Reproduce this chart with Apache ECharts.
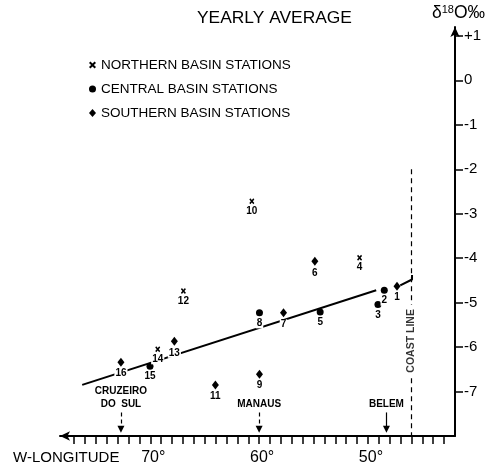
<!DOCTYPE html>
<html>
<head>
<meta charset="utf-8">
<script src="https://cdn.jsdelivr.net/npm/echarts@6/dist/echarts.min.js"></script>
<style>
  html, body { margin: 0; padding: 0; background: #fff; }
  #main { width: 492px; height: 467px; }
</style>
</head>
<body>
<div id="main"></div>
<script>
// station number, longitude (deg W) and yearly mean delta 18O (permil)
const northId = [4, 10, 12, 14]
const northLon = [50.77, 60.67, 66.96, 69.32]
const northD18O = [-3.99, -2.72, -4.74, -6.05]

const centralId = [2, 3, 5, 8, 15]
const centralLon = [48.5, 49.08, 54.39, 59.97, 70.03]
const centralD18O = [-4.72, -5.04, -5.21, -5.23, -6.43]

const southId = [1, 6, 7, 9, 11, 13, 16]
const southLon = [47.33, 54.88, 57.76, 59.97, 64.02, 67.79, 72.70]
const southD18O = [-4.63, -4.07, -5.23, -6.61, -6.85, -5.87, -6.34]

// trend line, in two pieces
const fitLon = [76.26, 49.24]
const fitD18O = [-6.85, -4.72]
const fitLon2 = [47.03, 45.95, 45.95]
const fitD18O2 = [-4.61, -4.48, -4.38]

// towns marked with arrows on the longitude axis
const placeNames = ['CRUZEIRO\nDO  SUL', 'MANAUS', 'BELEM']
const placeLon = [72.7, 60.0, 48.3]
const placeFrom = [-7.47, -7.47, -7.47]
const placeTo = -7.85

// coast line (broken where its label sits)
const coastLon = 46
const coastFrom = [-2, -6.7]
const coastTo = [-5.05, -8]
const coastLabelAt = -5.86

// ticks
const lonTicks = [43, 44, 45, 46, 47, 48, 49, 50, 51, 52, 53, 54, 55, 56, 57, 58, 59, 60,
  61, 62, 63, 64, 65, 66, 67, 68, 69, 70, 71, 72, 73, 74, 75, 76, 77]
const lonLabels = [50, 60, 70]
const d18OTicks = [1, 0, -1, -2, -3, -4, -5, -6, -7]

const font = 'Liberation Sans'

function pts(lon, d, id) {
  return lon.map((v, i) => [v, d[i], id[i]])
}

const numLabel = {
  show: true,
  position: 'bottom',
  distance: 2,
  formatter: p => p.value[2],
  fontFamily: font,
  fontWeight: 'bold',
  fontSize: 10,
  color: '#000',
  backgroundColor: '#fff',
  padding: [0, 1]
}

const chart = echarts.init(document.getElementById('main'))

const option = {
  animation: false,
  backgroundColor: '#fff',
  title: {
    text: 'YEARLY AVERAGE',
    left: 197,
    top: 10,
    padding: 0,
    textStyle: { fontFamily: font, fontSize: 17.4, fontWeight: 'normal', color: '#000' }
  },
  legend: {
    orient: 'vertical',
    left: 84,
    top: 53,
    itemWidth: 7,
    itemHeight: 8,
    itemGap: 10,
    selectedMode: false,
    textStyle: { fontFamily: font, fontSize: 13.5, lineHeight: 14, color: '#000' },
    data: ['NORTHERN BASIN STATIONS', 'CENTRAL BASIN STATIONS', 'SOUTHERN BASIN STATIONS']
  },
  grid: { left: 60, right: 37, top: 27, bottom: 31 },
  xAxis: {
    type: 'value',
    inverse: true,
    min: 42,
    max: 78.3,
    position: 'bottom',
    axisLine: {
      onZero: false,
      symbol: ['arrow', 'none'],
      symbolSize: [7, 10],
      lineStyle: { color: '#000', width: 2 }
    },
    axisTick: { customValues: lonTicks, length: 8, lineStyle: { color: '#000', width: 1.5 } },
    axisLabel: {
      customValues: lonLabels,
      formatter: v => v + '°',
      margin: 14,
      padding: [0, 0, 0, 6],
      fontFamily: font,
      fontSize: 16,
      color: '#000'
    },
    splitLine: { show: false }
  },
  yAxis: {
    type: 'value',
    position: 'right',
    min: -8,
    max: 1.2,
    axisLine: {
      show: true,
      onZero: false,
      symbol: ['none', 'arrow'],
      symbolSize: [7, 10],
      lineStyle: { color: '#000', width: 2 }
    },
    axisTick: { show: true, customValues: d18OTicks, length: 8, lineStyle: { color: '#000', width: 1.5 } },
    axisLabel: {
      customValues: d18OTicks,
      formatter: v => (v > 0 ? '+' + v : String(v)),
      margin: 9,
      fontFamily: font,
      fontSize: 15,
      color: '#000'
    },
    splitLine: { show: false }
  },
  graphic: [
    {
      type: 'text',
      left: 432,
      top: 4,
      style: {
        text: '{a|δ}{b|18}{a|O‰}',
        rich: {
          a: { fontFamily: font, fontSize: 17.5, fill: '#000' },
          b: { fontFamily: font, fontSize: 11, fill: '#000', padding: [0, 0, 8, 0] }
        }
      }
    },
    {
      type: 'text',
      left: 13,
      top: 450,
      style: { text: 'W-LONGITUDE', fontFamily: font, fontSize: 15, fill: '#000' }
    }
  ],
  series: [
    {
      name: 'trend',
      type: 'line',
      z: 1,
      silent: true,
      symbol: 'none',
      data: fitLon.map((v, i) => [v, fitD18O[i]]),
      lineStyle: { color: '#000', width: 2 },
      markLine: {
        silent: true,
        symbol: ['none', 'triangle'],
        symbolSize: 7,
        label: {
          show: true,
          position: 'start',
          distance: 2,
          formatter: '{b}',
          fontFamily: font,
          fontWeight: 'bold',
          fontSize: 10,
          lineHeight: 13,
          color: '#000'
        },
        data: placeLon.map((lon, i) => [
          {
            name: placeNames[i],
            coord: [lon, placeFrom[i]],
            itemStyle: { color: '#000', opacity: 1 },
            lineStyle: { color: '#000', width: 1.2, type: i === 2 ? 'solid' : [4, 3] }
          },
          { coord: [lon, placeTo] }
        ]).concat(coastFrom.map((from, i) => [
          {
            coord: [coastLon, from],
            symbol: 'none',
            label: { show: false },
            lineStyle: { color: '#000', width: 1.2, type: [5, 4] }
          },
          { coord: [coastLon, coastTo[i]], symbol: 'none' }
        ]))
      }
    },
    {
      name: 'trend2',
      type: 'line',
      z: 1,
      silent: true,
      symbol: 'none',
      data: fitLon2.map((v, i) => [v, fitD18O2[i]]),
      lineStyle: { color: '#000', width: 2 }
    },
    {
      name: 'NORTHERN BASIN STATIONS',
      type: 'scatter',
      z: 3,
      symbol: 'path://M0,2L2,0L5,3L8,0L10,2L7,5L10,8L8,10L5,7L2,10L0,8L3,5Z',
      symbolSize: [5, 6],
      itemStyle: { color: '#000', opacity: 1 },
      label: numLabel,
      data: pts(northLon, northD18O, northId)
    },
    {
      name: 'CENTRAL BASIN STATIONS',
      type: 'scatter',
      z: 3,
      symbol: 'circle',
      symbolSize: 7,
      itemStyle: { color: '#000', opacity: 1 },
      label: numLabel,
      data: pts(centralLon, centralD18O, centralId)
    },
    {
      name: 'SOUTHERN BASIN STATIONS',
      type: 'scatter',
      z: 3,
      symbol: 'diamond',
      symbolSize: [7, 9],
      itemStyle: { color: '#000', opacity: 1 },
      label: numLabel,
      data: pts(southLon, southD18O, southId)
    },
    {
      name: 'coast',
      type: 'scatter',
      z: 4,
      silent: true,
      symbolSize: 0,
      label: {
        show: true,
        position: 'inside',
        rotate: 90,
        formatter: 'COAST LINE',
        fontFamily: font,
        fontWeight: 'bold',
        fontSize: 10.5,
        color: '#000'
      },
      data: [[coastLon, coastLabelAt]]
    }
  ]
}

chart.setOption(option)
window.addEventListener('resize', chart.resize)
</script>
</body>
</html>
